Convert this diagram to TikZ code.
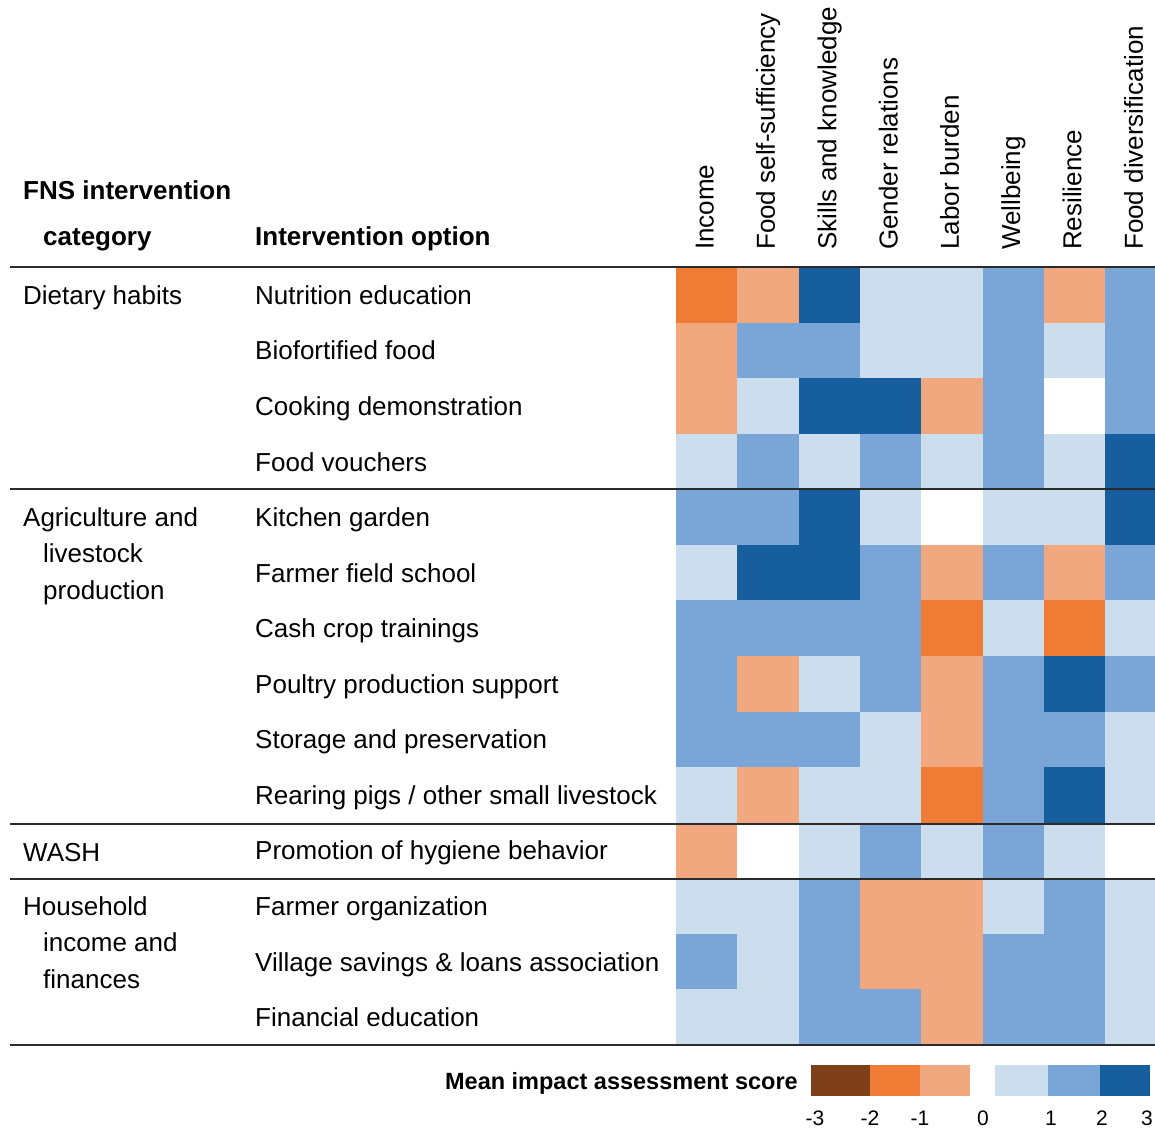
\documentclass[tikz,border=0pt]{standalone}
\usepackage{fontspec}
\setmainfont{Liberation Sans}
\definecolor{hmA}{HTML}{7F3F18}
\definecolor{hmB}{HTML}{EF7B34}
\definecolor{hmC}{HTML}{F2A87F}
\definecolor{hmZ}{HTML}{FFFFFF}
\definecolor{hmD}{HTML}{CCDDEE}
\definecolor{hmE}{HTML}{79A6D7}
\definecolor{hmF}{HTML}{175E9E}
\definecolor{rulecol}{HTML}{2B2B2B}
\begin{document}
\begin{tikzpicture}[x=1pt,y=-1pt,
  txt/.style={inner sep=0pt,anchor=base west,font=\fontsize{26}{30}\selectfont},
  hdr/.style={inner sep=0pt,anchor=base west,font=\fontsize{26}{30}\selectfont\bfseries},
  colhdr/.style={txt,rotate=90},
  hrule/.style={line width=2pt,draw=rulecol},
  num/.style={inner sep=0pt,anchor=base,font=\fontsize{21}{25}\selectfont},
  legtitle/.style={inner sep=0pt,anchor=base east,font=\fontsize{23.5}{28}\selectfont\bfseries}]
\useasboundingbox (0,0) rectangle (1155,1129);
\clip (0,0) rectangle (1155,1129);
\def\cw{61.3}
\def\rh{55.57}
% heat map cells
\foreach \vals [count=\r from 0] in {
  {B,C,F,D,D,E,C,E},
  {C,E,E,D,D,E,D,E},
  {C,D,F,F,C,E,Z,E},
  {D,E,D,E,D,E,D,F},
  {E,E,F,D,Z,D,D,F},
  {D,F,F,E,C,E,C,E},
  {E,E,E,E,B,D,B,D},
  {E,C,D,E,C,E,F,E},
  {E,E,E,D,C,E,E,D},
  {D,C,D,D,B,E,F,D},
  {C,Z,D,E,D,E,D,Z},
  {D,D,E,C,C,D,E,D},
  {E,D,E,C,C,E,E,D},
  {D,D,E,E,C,E,E,D}}{
  \foreach \v [count=\c from 0] in \vals {
    \fill[hm\v] ({676+\c*\cw},{267+\r*\rh}) rectangle ({676+(\c+1)*\cw+0.4},{267+(\r+1)*\rh+0.4});
  }
}
% column headers
\foreach \t [count=\c from 0] in {Income,Food self-sufficiency,Skills and knowledge,Gender relations,Labor burden,Wellbeing,Resilience,Food diversification}{
  \node[colhdr] (col\c) at ({676+(\c+0.5)*\cw+7},250) {\t};
}
% table headings
\node[hdr] (h1) at (23,199) {FNS intervention};
\node[hdr] (h2) at (43,245) {category};
\node[hdr] (h3) at (255,245) {Intervention option};
% intervention options
\foreach \t [count=\r from 0] in {Nutrition education,Biofortified food,Cooking demonstration,Food vouchers,Kitchen garden,Farmer field school,Cash crop trainings,Poultry production support,Storage and preservation,Rearing pigs / other small livestock,Promotion of hygiene behavior,Farmer organization,Village savings \& loans association,Financial education}{
  \node[txt] (opt\r) at (255,{267+(\r+0.5)*\rh+9.5}) {\t};
}
% categories
\node[txt] (cat1) at (23,304.3) {Dietary habits};
\node[txt] (cat2a) at (23,526.6) {Agriculture and};
\node[txt] (cat2b) at (43,562.8) {livestock};
\node[txt] (cat2c) at (43,599) {production};
\node[txt] (cat3) at (23,861.5) {WASH};
\node[txt] (cat4a) at (23,915.6) {Household};
\node[txt] (cat4b) at (43,951.8) {income and};
\node[txt] (cat4c) at (43,988) {finances};
% rules
\foreach \y [count=\i] in {267,489.3,823.6,879.2,1045}{
  \coordinate (rl\i) at (10,\y);
  \coordinate (rr\i) at (1155,\y);
  \draw[hrule] (rl\i) -- (rr\i);
}
% legend
\node[legtitle] (leg) at (798,1089) {Mean impact assessment score};
\fill[hmA] (811,1065) rectangle (870.3,1096);
\fill[hmB] (870,1065) rectangle (920.3,1096);
\fill[hmC] (920,1065) rectangle (970,1096);
\fill[hmD] (995,1065) rectangle (1048.3,1096);
\fill[hmE] (1048,1065) rectangle (1100.3,1096);
\fill[hmF] (1100,1065) rectangle (1150,1096);
\foreach \t/\x [count=\i] in {-3/815,-2/870,-1/920,0/983,1/1051,2/1102,3/1147}{
  \node[num] (n\i) at (\x,1125) {\t};
}
\end{tikzpicture}
\end{document}
